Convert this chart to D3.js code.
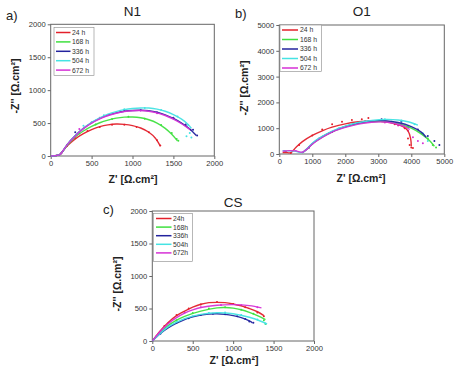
<!DOCTYPE html>
<html><head><meta charset="utf-8">
<script src="https://cdn.jsdelivr.net/npm/d3@7"></script>
<style>
body{margin:0;background:#fff;}
svg{display:block;font-family:"Liberation Sans",Arial,sans-serif;}
</style></head>
<body><svg id="c" width="473" height="374"></svg>
<script>
// ---------- DATA ----------
const seriesColors = ["#e3202b", "#3fe03f", "#23239e", "#45e3e3", "#d631d6"];
const labelsN1 = ["24 h", "168 h", "336 h", "504 h", "672 h"];
const labelsO1 = ["24 h", "168 h", "336 h", "504 h", "672 h"];
const labelsCS = ["24h", "168h", "336h", "504h", "672h"];
const ticksN1 = [0, 500, 1000, 1500, 2000];
const ticksO1 = [0, 1000, 2000, 3000, 4000, 5000];
const ticksCS = [0, 500, 1000, 1500, 2000];

// N1 fitted lines [Z', -Z'']
const n1Fit = [
  [[0,0],[60,5],[110,20],[140,60],[200,150],[300,260],[400,340],[500,400],[600,445],[700,472],[800,485],[900,480],[1000,462],[1100,425],[1200,360],[1280,270],[1340,150]],
  [[0,0],[60,5],[110,20],[140,60],[200,160],[300,290],[400,380],[500,450],[600,505],[700,545],[800,575],[900,590],[1000,592],[1100,580],[1200,550],[1300,500],[1400,420],[1480,330],[1550,230]],
  [[0,0],[60,5],[110,20],[140,60],[200,170],[300,310],[400,420],[500,505],[600,570],[700,620],[800,655],[900,680],[1000,692],[1100,695],[1200,688],[1300,665],[1400,625],[1500,570],[1600,500],[1700,410],[1780,310]],
  [[0,0],[60,5],[110,20],[140,60],[200,170],[300,310],[400,420],[500,510],[600,580],[700,635],[800,675],[900,705],[1000,722],[1100,730],[1200,728],[1300,712],[1400,680],[1500,630],[1600,560],[1680,480],[1720,420]],
  [[0,0],[60,5],[110,20],[140,60],[200,168],[300,305],[400,415],[500,500],[600,565],[700,615],[800,650],[900,675],[1000,688],[1100,690],[1200,680],[1300,655],[1400,615],[1500,560],[1600,490],[1700,405]]
];
const n1Pts = [
  [[130,40],[200,150],[300,270],[450,380],[600,440],[750,475],[900,475],[1050,440],[1200,360],[1300,240],[1340,160]],
  [[200,170],[350,340],[550,480],[750,560],[950,595],[1150,565],[1350,470],[1480,350],[1540,260],[1560,230]],
  [[300,360],[500,510],[700,620],[900,690],[1100,695],[1300,660],[1500,580],[1650,480],[1740,400],[1790,310]],
  [[400,460],[650,620],[900,710],[1150,730],[1350,700],[1550,600],[1680,470],[1700,350],[1720,280],[1660,300]],
  [[350,410],[600,580],[850,670],[1100,690],[1300,650],[1500,570],[1650,460],[1710,400]]
];

// O1
const o1Fit = [
  [[100,60],[200,60],[350,50],[500,250],[700,480],[1000,720],[1300,900],[1600,1040],[2000,1170],[2400,1250],[2800,1280],[3200,1250],[3500,1170],[3750,1060],[3900,900],[3980,600],[4000,300]],
  [[700,50],[850,200],[1000,390],[1300,650],[1600,860],[2000,1050],[2400,1180],[2800,1250],[3200,1260],[3600,1180],[4000,1000],[4300,780],[4550,520],[4700,300]],
  [[700,50],[850,210],[1000,400],[1300,670],[1600,870],[2000,1070],[2400,1200],[2800,1280],[3200,1290],[3600,1220],[4000,1060],[4300,850],[4450,650]],
  [[100,130],[300,120],[500,100],[700,60],[850,220],[1000,420],[1300,680],[1600,890],[2000,1080],[2400,1220],[2800,1300],[3200,1340],[3600,1320],[3900,1250],[4200,1120]],
  [[100,110],[300,130],[500,120],[700,70],[850,200],[1000,380],[1300,640],[1600,850],[2000,1030],[2400,1160],[2800,1230],[3200,1240],[3500,1180],[3800,1060],[3950,950]]
];
const o1Pts = [
  [[200,100],[350,40],[600,350],[1000,720],[1300,950],[1600,1150],[1900,1250],[2200,1320],[2500,1350],[2700,1400],[3500,1150],[3800,1000],[3900,600],[3950,350],[4000,250],[4050,230]],
  [[900,250],[1500,800],[2500,1200],[3400,1250],[3900,1050],[4300,800],[4500,600],[4650,350],[4750,250]],
  [[900,250],[1600,850],[2400,1200],[3100,1350],[3700,1250],[4200,950],[4500,700],[4700,500],[4850,350]],
  [[1000,400],[1800,1000],[2600,1280],[3200,1350],[3700,1300],[4100,1150],[4350,800],[4500,500]],
  [[150,120],[500,120],[800,150],[1200,600],[2000,1050],[2600,1250],[3200,1220],[3600,1100],[3900,900],[4050,650],[4200,500],[4350,420]]
];

// CS
const csFit = [
  [[0,0],[100,160],[200,290],[300,390],[400,460],[500,520],[600,565],[700,590],[800,595],[900,590],[1000,570],[1100,540],[1200,500],[1300,450],[1380,390]],
  [[0,0],[100,130],[200,240],[300,320],[400,380],[600,460],[800,510],[900,515],[1000,505],[1100,480],[1200,440],[1300,390],[1400,330]],
  [[0,0],[100,115],[200,205],[300,275],[400,330],[500,370],[600,400],[700,415],[800,420],[900,410],[1000,390],[1100,360],[1200,310],[1240,280]],
  [[0,0],[100,120],[200,220],[300,290],[400,345],[600,410],[800,435],[1000,420],[1200,365],[1350,300],[1420,260]],
  [[0,0],[100,150],[200,270],[300,360],[400,430],[500,480],[600,515],[800,550],[1000,560],[1200,545],[1350,510]]
];
const csPts = [
  [[50,70],[150,230],[300,400],[450,500],[600,560],[800,600],[1000,570],[1150,520],[1300,440],[1380,380]],
  [[100,130],[300,320],[500,430],[700,500],[900,520],[1100,480],[1250,420],[1380,320],[1400,260]],
  [[100,110],[300,280],[450,350],[600,400],[750,420],[900,410],[1050,380],[1150,340],[1200,300],[1250,280]],
  [[100,120],[300,290],[500,380],[700,430],[900,440],[1100,400],[1300,330],[1400,270]],
  [[200,280],[400,440],[600,520],[850,555],[1100,550],[1300,520]]
];

// ---------- DRAW ----------
const svg = d3.select("#c");
const panels = [
  {tag:"a)", title:"N1", fit:n1Fit, pts:n1Pts, labels:labelsN1, ticks:ticksN1, max:2000,
   x0:50.7, x1:214.3, yb:156, yt:24.3, tagX:6, tagY:20, titleY:15.5, ylX:15, ylY:86, xlX:133, xlY:183,
   leg:{x:54, y:27.5, w:40, h:48, lx0:56, lx1:70.5, tx:72, ty0:32.5, dy:9.4}},
  {tag:"b)", title:"O1", fit:o1Fit, pts:o1Pts, labels:labelsO1, ticks:ticksO1, max:5000,
   x0:279.3, x1:444.3, yb:154, yt:25, tagX:235, tagY:17.5, titleY:15.5, ylX:244, ylY:88, xlX:361, xlY:182,
   leg:{x:280, y:25, w:41.5, h:46.5, lx0:282, lx1:298, tx:300, ty0:30, dy:9.5}},
  {tag:"c)", title:"CS", fit:csFit, pts:csPts, labels:labelsCS, ticks:ticksCS, max:2000,
   x0:152.3, x1:314, yb:341, yt:211, tagX:103, tagY:214, titleY:206.5, ylX:117, ylY:284, xlX:234, xlY:364,
   leg:{x:153.5, y:213.5, w:39, h:48, lx0:156, lx1:171.5, tx:173, ty0:218.5, dy:8.6}}
];

panels.forEach(p => {
  const x = d3.scaleLinear().domain([0, p.max]).range([p.x0, p.x1]);
  const y = d3.scaleLinear().domain([0, p.max]).range([p.yb, p.yt]);
  const g = svg.append("g");

  // frame
  g.append("rect").attr("x", p.x0).attr("y", p.yt).attr("width", p.x1 - p.x0).attr("height", p.yb - p.yt)
    .attr("fill", "none").attr("stroke", "#666").attr("stroke-width", 1);

  const xa = g.append("g").attr("transform", `translate(0,${p.yb})`)
    .call(d3.axisBottom(x).tickValues(p.ticks).tickSize(3).tickPadding(2).tickFormat(d3.format("d")));
  const ya = g.append("g").attr("transform", `translate(${p.x0},0)`)
    .call(d3.axisLeft(y).tickValues(p.ticks).tickSize(3).tickPadding(2).tickFormat(d3.format("d")));
  [xa, ya].forEach(a => {
    a.select(".domain").remove();
    a.selectAll("line").attr("stroke", "#666");
    a.selectAll("text").attr("font-size", 7.6).attr("fill", "#333").attr("font-family", "\"Liberation Sans\",Arial,sans-serif");
  });

  const line = d3.line().x(d => x(d[0])).y(d => y(d[1])).curve(d3.curveCatmullRom.alpha(0.5));
  const clipId = "clip" + p.title;
  g.append("clipPath").attr("id", clipId).append("rect")
    .attr("x", p.x0).attr("y", p.yt).attr("width", p.x1 - p.x0).attr("height", p.yb - p.yt + 1);
  const plot = g.append("g").attr("clip-path", `url(#${clipId})`);

  p.fit.forEach((s, i) => {
    plot.append("g").selectAll("circle").data(p.pts[i]).join("circle")
      .attr("cx", d => x(d[0])).attr("cy", d => y(d[1])).attr("r", 1).attr("fill", seriesColors[i]);
  });
  p.fit.forEach((s, i) => {
    plot.append("path").datum(s).attr("d", line).attr("fill", "none")
      .attr("stroke", seriesColors[i]).attr("stroke-width", 1.4).attr("stroke-opacity", 0.95);
  });

  // legend
  const L = p.leg;
  g.append("rect").attr("x", L.x).attr("y", L.y).attr("width", L.w).attr("height", L.h)
    .attr("fill", "#fff").attr("stroke", "#888").attr("stroke-width", 0.6);
  p.labels.forEach((t, i) => {
    const yy = L.ty0 + i * L.dy;
    g.append("line").attr("x1", L.lx0).attr("x2", L.lx1).attr("y1", yy).attr("y2", yy)
      .attr("stroke", seriesColors[i]).attr("stroke-width", 1.5);
    g.append("text").attr("x", L.tx).attr("y", yy + 2.4).text(t).attr("font-size", 6.8).attr("fill", "#333");
  });

  // texts
  g.append("text").attr("x", p.tagX).attr("y", p.tagY).text(p.tag).attr("font-size", 13).attr("fill", "#222");
  g.append("text").attr("x", (p.x0 + p.x1) / 2).attr("y", p.titleY).attr("text-anchor", "middle")
    .text(p.title).attr("font-size", 13.5).attr("fill", "#222");
  g.append("text").attr("transform", `translate(${p.ylX},${p.ylY}) rotate(-90)`).attr("text-anchor", "middle")
    .attr("dy", "0.35em").text("-Z'' [Ω.cm²]").attr("font-size", 10.5).attr("font-weight", "bold").attr("fill", "#222");
  g.append("text").attr("x", p.xlX).attr("y", p.xlY).attr("text-anchor", "middle")
    .text("Z' [Ω.cm²]").attr("font-size", 10.5).attr("font-weight", "bold").attr("fill", "#222");
});
</script></body></html>
